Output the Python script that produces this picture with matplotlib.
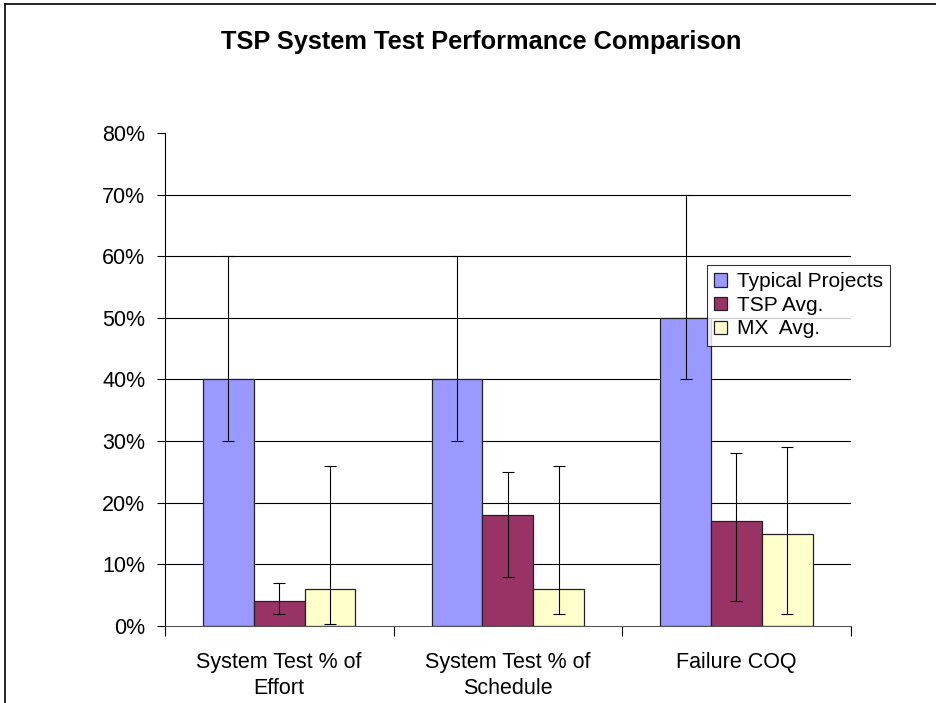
import numpy as np
import matplotlib.pyplot as plt
from matplotlib.lines import Line2D

plt.rcParams['font.family'] = ['Liberation Sans', 'DejaVu Sans']

# Data (percent)
categories = ['System Test % of\nEffort', 'System Test % of\nSchedule', 'Failure COQ']
series = ['Typical Projects', 'TSP Avg.', 'MX  Avg.']
typical = [40, 40, 50]
typical_lo = [30, 30, 40]
typical_hi = [60, 60, 70]
tsp = [4, 18, 17]
tsp_lo = [2, 8, 4]
tsp_hi = [7, 25, 28]
mx = [6, 6, 15]
mx_lo = [0.4, 2, 2]
mx_hi = [26, 26, 29]

colors = ['#9999FF', '#993366', '#FFFFCC']

fig = plt.figure(figsize=(9.37, 7.03), dpi=100)
ax = fig.add_axes([0.176, 0.1095, 0.732, 0.7015])

x = np.arange(len(categories))
w = 0.222
vals = [typical, tsp, mx]
los = [typical_lo, tsp_lo, mx_lo]
his = [typical_hi, tsp_hi, mx_hi]

for i, (v, lo, hi) in enumerate(zip(vals, los, his)):
    pos = x + (i - 1) * w
    v = np.array(v)
    yerr = [v - np.array(lo), np.array(hi) - v]
    ax.bar(pos, v, width=w, color=colors[i], edgecolor='#222222',
           linewidth=0.9, label=series[i], zorder=2)
    ax.errorbar(pos, v, yerr=yerr, fmt='none', ecolor='black',
                elinewidth=0.8, capsize=4, capthick=0.8, zorder=3)

ax.set_xlim(-0.5, 2.5)
ax.set_ylim(0, 80)
ax.set_yticks(np.arange(0, 81, 10))
ax.set_yticklabels([f'{t}%' for t in range(0, 81, 10)], fontsize=15.5)
for t in range(10, 80, 10):
    ax.axhline(t, color='black', linewidth=0.8, zorder=1)

ax.set_xticks([-0.5, 0.5, 1.5, 2.5], minor=False)
ax.set_xticklabels([])
ax.set_xticks(x, minor=True)
ax.set_xticklabels(categories, minor=True, fontsize=15.5, linespacing=1.3)
ax.tick_params(axis='x', which='minor', length=0, pad=19)
ax.tick_params(axis='x', which='major', length=7, direction='out', width=0.8)
ax.tick_params(axis='y', length=6, direction='out', width=0.8, pad=8)

ax.spines['top'].set_visible(False)
ax.spines['right'].set_visible(False)
ax.spines['left'].set_linewidth(0.8)
ax.spines['bottom'].set_linewidth(0.8)
ax.spines['bottom'].set_color('#555555')

fig.text(0.514, 0.94, 'TSP System Test Performance Comparison',
         ha='center', va='center', fontsize=18.3, fontweight='bold')

leg = ax.legend(loc='upper left', bbox_to_anchor=(0.7545, 0.623),
                bbox_transform=fig.transFigure, fontsize=15, frameon=True,
                fancybox=False, edgecolor='black', handlelength=0.6,
                handleheight=0.6, handletextpad=0.5, labelspacing=0.22,
                borderpad=0.35, borderaxespad=0)
leg.get_frame().set_linewidth(0.8)

# chart border (top and left edges visible in crop)
fig.add_artist(Line2D([0.005, 1.0], [0.994, 0.994], color='black', linewidth=1.2))
fig.add_artist(Line2D([0.005, 0.005], [0.0, 0.994], color='black', linewidth=1.2))

fig.savefig('out.png', dpi=100)
